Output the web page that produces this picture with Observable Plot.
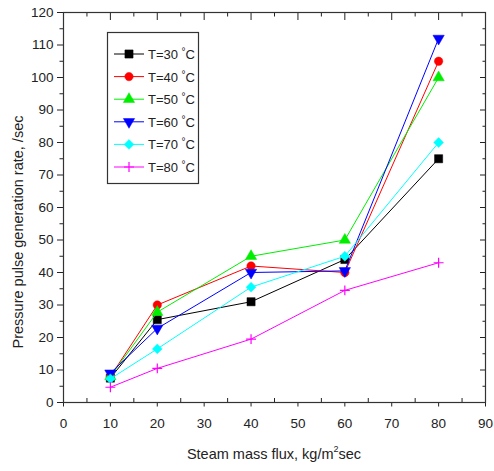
<!DOCTYPE html>
<html>
<head>
<meta charset="utf-8">
<script src="https://cdn.jsdelivr.net/npm/d3@7"></script>
<script src="https://cdn.jsdelivr.net/npm/@observablehq/plot@0.6"></script>
<style>
  body { margin: 0; background: #fff; }
  #chart { width: 494px; height: 471px; }
</style>
</head>
<body>
<div id="chart"></div>
<script>
// Steam mass flux (kg/m²sec) at which pulse rates were measured
const flux = [10, 20, 40, 60, 80];

// Pressure pulse generation rate (/sec) for each water temperature
const rate30 = [7.5, 25.5, 31, 44, 75];
const rate40 = [8, 30, 42, 40, 105];
const rate50 = [8, 27.8, 45, 50, 100];
const rate60 = [9, 22.8, 40, 40.5, 112];
const rate70 = [7.3, 16.5, 35.5, 45, 80];
const rate80 = [4.7, 10.5, 19.5, 34.5, 43];

const tempLabels = ["T=30", "T=40", "T=50", "T=60", "T=70", "T=80"];

const xTicks = [0, 10, 20, 30, 40, 50, 60, 70, 80, 90];
const yTicks = [0, 10, 20, 30, 40, 50, 60, 70, 80, 90, 100, 110, 120];

// Downward-pointing triangle (mirror of d3.symbolTriangle)
const triangleDown = {
  draw(context, size) {
    const s3 = Math.sqrt(3);
    const y = -Math.sqrt(size / (s3 * 3));
    context.moveTo(0, -y * 2);
    context.lineTo(-s3 * y, y);
    context.lineTo(s3 * y, y);
    context.closePath();
  }
};

const styles = [
  {color: "#000000", symbol: "square", r: 4.6, fill: true},
  {color: "#ff0000", symbol: "circle", r: 4.2, fill: true},
  {color: "#00ee00", symbol: "triangle", r: 4.2, fill: true},
  {color: "#0000ff", symbol: triangleDown, r: 4.2, fill: true},
  {color: "#00ffff", symbol: "diamond2", r: 4.4, fill: true},
  {color: "#ff00ff", symbol: "plus", r: 3.3, fill: false}
];

const rates = [rate30, rate40, rate50, rate60, rate70, rate80];
const series = rates.map((vals, i) => ({
  label: tempLabels[i],
  ...styles[i],
  points: flux.map((f, j) => ({flux: f, rate: vals[j]}))
}));

const minor = (arr) => arr.slice(0, -1).map(v => v + (arr[1] - arr[0]) / 2);
const blank = () => "";

const marks = [
  // left axis: labelled majors and minors, both outward
  Plot.axisY(yTicks, {anchor: "left", tickSize: 6, tickPadding: 4, label: null, fontSize: 13.5}),
  Plot.axisY(minor(yTicks), {anchor: "left", tickSize: 3.5, tickFormat: blank, label: null}),
  // right axis: inward ticks
  Plot.axisY(yTicks, {anchor: "right", tickSize: -6, tickFormat: blank, label: null}),
  Plot.axisY(minor(yTicks), {anchor: "right", tickSize: -3.5, tickFormat: blank, label: null}),
  // bottom axis: outward majors, inward minors
  Plot.axisX(xTicks, {anchor: "bottom", tickSize: 4.5, tickPadding: 11, label: null, fontSize: 13.5}),
  Plot.axisX(minor(xTicks), {anchor: "bottom", tickSize: -4, tickFormat: blank, label: null}),
  // top axis: inward ticks
  Plot.axisX(xTicks, {anchor: "top", tickSize: -7, tickFormat: blank, label: null}),
  Plot.axisX(minor(xTicks), {anchor: "top", tickSize: -3.5, tickFormat: blank, label: null}),
  Plot.frame({stroke: "#333", strokeWidth: 1.2})
];

for (const s of series) {
  marks.push(Plot.line(s.points, {x: "flux", y: "rate", stroke: s.color, strokeWidth: 1}));
  marks.push(Plot.dot(s.points, {
    x: "flux", y: "rate", symbol: s.symbol, r: s.r,
    fill: s.fill ? s.color : "none",
    stroke: s.color, strokeWidth: s.fill ? 0.5 : 1.2
  }));
}

const chart = Plot.plot({
  width: 494,
  height: 471,
  marginLeft: 63,
  marginRight: 9,
  marginTop: 12,
  marginBottom: 69,
  x: {type: "linear", domain: [0, 90]},
  y: {type: "linear", domain: [0, 120]},
  style: {fontFamily: "'Liberation Sans', Arial, sans-serif", fontSize: "13.5px", color: "#222", background: "#fff"},
  marks
});

document.getElementById("chart").append(chart);

// Axis titles and in-plot legend
const svg = d3.select(chart);
const font = "'Liberation Sans', Arial, sans-serif";

const xTitle = svg.append("text")
  .attr("x", 274).attr("y", 459)
  .attr("text-anchor", "middle")
  .attr("font-family", font).attr("font-size", 14.5).attr("fill", "#222");
xTitle.append("tspan").text("Steam mass flux, kg/m");
xTitle.append("tspan").attr("font-size", 9).attr("dy", -7).text("2");
xTitle.append("tspan").attr("dy", 7).text("sec");

svg.append("text")
  .attr("transform", "translate(23,232) rotate(-90)")
  .attr("text-anchor", "middle")
  .attr("font-family", font).attr("font-size", 14.5).attr("fill", "#222")
  .text("Pressure pulse generation rate, /sec");

const legend = svg.append("g").attr("text-anchor", "start");
legend.append("rect")
  .attr("x", 107.5).attr("y", 32.5).attr("width", 91).attr("height", 151)
  .attr("fill", "#fff").attr("stroke", "#333").attr("stroke-width", 1.2);

const symType = (s) => typeof s === "string"
  ? {square: d3.symbolSquare, circle: d3.symbolCircle, triangle: d3.symbolTriangle,
     diamond2: d3.symbolDiamond2, plus: d3.symbolPlus}[s]
  : s;

series.forEach((s, i) => {
  const cy = 54 + i * 22.6;
  const g = legend.append("g");
  g.append("line")
    .attr("x1", 114).attr("x2", 144).attr("y1", cy).attr("y2", cy)
    .attr("stroke", s.color).attr("stroke-width", 1);
  g.append("path")
    .attr("transform", `translate(129,${cy})`)
    .attr("d", d3.symbol(symType(s.symbol), s.r * s.r * Math.PI)())
    .attr("fill", s.fill ? s.color : "none")
    .attr("stroke", s.color).attr("stroke-width", s.fill ? 0.5 : 1.2);
  const t = g.append("text")
    .attr("x", 148).attr("y", cy + 5)
    .attr("text-anchor", "start")
    .attr("font-family", font).attr("font-size", 13).attr("fill", "#222");
  t.append("tspan").text(s.label + " ");
  t.append("tspan").attr("font-size", 10).attr("dy", -4).text("°");
  t.append("tspan").attr("dy", 4).text("C");
});
</script>
</body>
</html>
